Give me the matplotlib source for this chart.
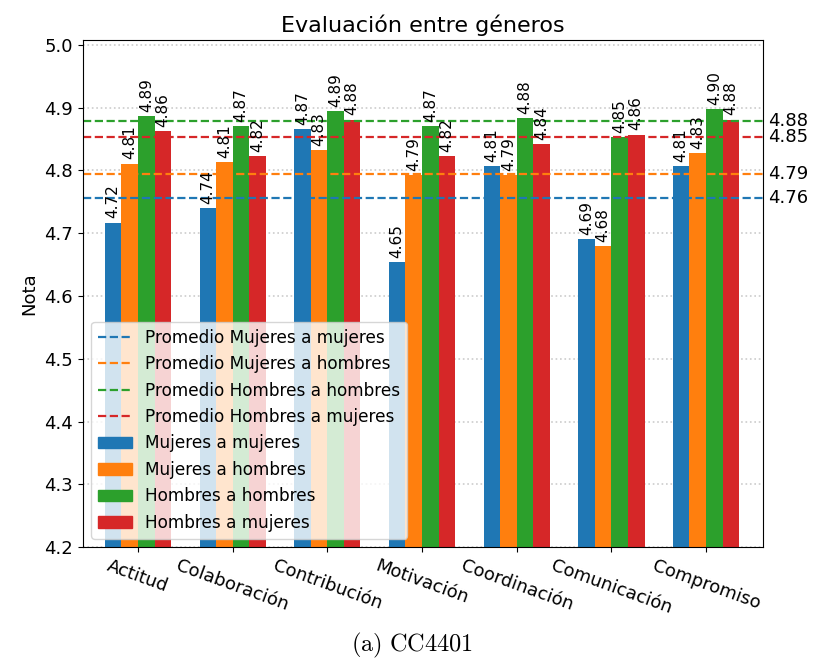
import matplotlib
matplotlib.use("Agg")
import matplotlib.pyplot as plt
import numpy as np
from matplotlib.lines import Line2D
from matplotlib.patches import Patch

CATEGORIAS = ["Actitud", "Colaboración", "Contribución", "Motivación",
              "Coordinación", "Comunicación", "Compromiso"]
SERIES = ["Mujeres a mujeres", "Mujeres a hombres", "Hombres a hombres", "Hombres a mujeres"]
COLORES = ["#1f77b4", "#ff7f0e", "#2ca02c", "#d62728"]

mujeres_a_mujeres = [4.717, 4.740, 4.866, 4.654, 4.807, 4.690, 4.807]
mujeres_a_hombres = [4.811, 4.813, 4.833, 4.793, 4.793, 4.680, 4.827]
hombres_a_hombres = [4.886, 4.870, 4.894, 4.870, 4.883, 4.853, 4.898]
hombres_a_mujeres = [4.863, 4.823, 4.881, 4.823, 4.842, 4.857, 4.881]
promedios = [4.756, 4.794, 4.879, 4.853]

valores = [mujeres_a_mujeres, mujeres_a_hombres, hombres_a_hombres, hombres_a_mujeres]

plt.rcParams["mathtext.fontset"] = "cm"

fig = plt.figure(figsize=(8.15, 6.64), dpi=100)
ax = fig.add_axes([0.1015, 0.176, 0.8345, 0.764])

ancho = 0.175
x = np.arange(len(CATEGORIAS))

handles_prom = []
for nombre, color, prom in zip(SERIES, COLORES, promedios):
    ax.axhline(prom, color=color, linestyle="--", linewidth=1.6, zorder=2)
    handles_prom.append(Line2D([0], [0], color=color, linestyle="--", linewidth=1.6,
                               label=f"Promedio {nombre}"))

handles_bar = []
for i, (nombre, color, vals) in enumerate(zip(SERIES, COLORES, valores)):
    barras = ax.bar(x + (i - 1.5) * ancho, vals, ancho, color=color, label=nombre, zorder=1)
    ax.bar_label(barras, labels=[f"{v:.2f}" for v in vals], rotation=90,
                 padding=3, fontsize=11)
    handles_bar.append(Patch(color=color, label=nombre))

ax.set_ylim(4.2, 5.008)
ax.set_xlim(-0.584, 6.6)
ax.set_xticks(x)
ax.set_xticklabels(CATEGORIAS, rotation=-20, ha="center", fontsize=13)
ax.tick_params(axis="y", labelsize=13)
ax.set_axisbelow(True)
ax.grid(axis="y", linestyle=":", color="#cccccc", linewidth=1.2)
ax.set_ylabel("Nota", fontsize=13)
ax.set_title("Evaluación entre géneros", fontsize=16, pad=6)

# etiquetas de promedio a la derecha del eje
for prom in promedios:
    ax.text(1.008, prom, f"{prom:.2f}", transform=ax.get_yaxis_transform(),
            ha="left", va="center", fontsize=13)

ax.legend(handles=handles_prom + handles_bar, loc="lower left", fontsize=12.2)

fig.text(0.506, 0.028, r"$\mathrm{(a)\ CC4401}$", ha="center", va="center", fontsize=17.5)

fig.savefig("out.png", dpi=100)
